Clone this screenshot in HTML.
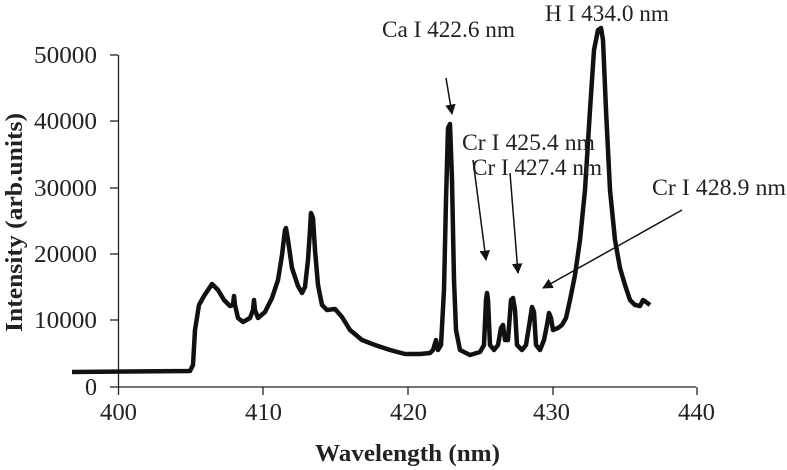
<!DOCTYPE html>
<html><head><meta charset="utf-8"><style>
html,body{margin:0;padding:0;background:#fff;}
svg{display:block;}
text{font-family:"Liberation Serif","Times New Roman",serif;}
</style></head><body>
<svg width="787" height="470" viewBox="0 0 787 470" xmlns="http://www.w3.org/2000/svg" font-family="Liberation Serif, serif">
<defs><marker id="ah" viewBox="0 0 10 10" refX="9" refY="5" markerWidth="7" markerHeight="7" orient="auto"><path d="M0,0 L10,5 L0,10 z" fill="#111"/></marker></defs>
<g stroke="#222" stroke-width="1.3" fill="none">
<line x1="118.5" y1="55" x2="118.5" y2="387"/>
<line x1="118" y1="387" x2="696" y2="387"/>
<line x1="110" y1="55" x2="118" y2="55"/>
<line x1="110" y1="121" x2="118" y2="121"/>
<line x1="110" y1="188" x2="118" y2="188"/>
<line x1="110" y1="254" x2="118" y2="254"/>
<line x1="110" y1="320" x2="118" y2="320"/>
<line x1="110" y1="387" x2="118" y2="387"/>
<line x1="118.5" y1="387" x2="118.5" y2="395"/>
<line x1="263" y1="387" x2="263" y2="395"/>
<line x1="408" y1="387" x2="408" y2="395"/>
<line x1="553" y1="387" x2="553" y2="395"/>
<line x1="697" y1="387" x2="697" y2="395"/>
</g>
<g font-size="24" fill="#222" text-anchor="end" font-family="Liberation Serif, serif">
<text x="97" y="63" textLength="63" lengthAdjust="spacingAndGlyphs">50000</text>
<text x="97" y="129" textLength="63" lengthAdjust="spacingAndGlyphs">40000</text>
<text x="97" y="196" textLength="63" lengthAdjust="spacingAndGlyphs">30000</text>
<text x="97" y="262" textLength="63" lengthAdjust="spacingAndGlyphs">20000</text>
<text x="97" y="328" textLength="63" lengthAdjust="spacingAndGlyphs">10000</text>
<text x="97" y="395">0</text>
</g>
<g font-size="24" fill="#222" font-family="Liberation Serif, serif">
<text x="100" y="420" textLength="37" lengthAdjust="spacingAndGlyphs">400</text>
<text x="245" y="420" textLength="37" lengthAdjust="spacingAndGlyphs">410</text>
<text x="390" y="420" textLength="37" lengthAdjust="spacingAndGlyphs">420</text>
<text x="533" y="420" textLength="37" lengthAdjust="spacingAndGlyphs">430</text>
<text x="678" y="420" textLength="37" lengthAdjust="spacingAndGlyphs">440</text>
</g>
<text x="315" y="461" font-size="24" font-weight="bold" fill="#222" textLength="185" lengthAdjust="spacingAndGlyphs">Wavelength (nm)</text>
<text transform="translate(22,332) rotate(-90)" font-size="24" font-weight="bold" fill="#222" textLength="219" lengthAdjust="spacingAndGlyphs">Intensity (arb.units)</text>
<path fill="none" stroke="#111" stroke-width="4.5" stroke-linejoin="round" d="M72,372 L190,371 L193,365 L195,330 L199,305 L204,296 L212,284 L218,290 L224,300 L230,306 L233,305 L234,296 L235,305 L238,318 L243,322 L250,318 L253,310 L254,300 L255,310 L258,318 L265,312 L272,298 L278,280 L282,255 L285,230 L286,228 L288,240 L292,268 L298,286 L302,293 L305,287 L308,260 L310,230 L311,213 L313,218 L315,250 L318,285 L322,305 L327,310 L335,309 L342,317 L350,330 L362,340 L375,345 L390,350 L405,354 L420,354 L430,353 L433,350 L436,340 L438,350 L441,345 L444,290 L446,200 L448,128 L450,124 L452,180 L454,280 L456,330 L460,350 L470,355 L480,352 L484,345 L486,300 L487,293 L488,300 L490,345 L494,350 L498,345 L501,328 L503,325 L505,340 L508,340 L511,300 L513,298 L515,310 L517,345 L522,350 L526,345 L530,320 L532,307 L534,312 L536,345 L540,350 L544,340 L547,325 L549,313 L551,318 L553,330 L558,328 L562,325 L566,318 L570,300 L575,275 L580,240 L585,190 L590,110 L594,50 L598,30 L601,28 L603,40 L606,110 L610,190 L615,240 L620,268 L625,285 L630,300 L635,305 L640,306 L643,300 L646,302 L650,305"/>
<g stroke="#111" stroke-width="1.5" marker-end="url(#ah)">
<line x1="446" y1="78" x2="452" y2="114"/>
<line x1="473" y1="160" x2="486" y2="260"/>
<line x1="510" y1="173" x2="518" y2="273"/>
<line x1="682" y1="210" x2="543" y2="288"/>
</g>
<g font-size="23" fill="#222" font-family="Liberation Serif, serif">
<text x="382" y="37" textLength="133" lengthAdjust="spacingAndGlyphs">Ca I 422.6 nm</text>
<text x="545" y="21" textLength="124" lengthAdjust="spacingAndGlyphs">H I 434.0 nm</text>
<text x="462" y="150" textLength="133" lengthAdjust="spacingAndGlyphs">Cr I 425.4 nm</text>
<text x="472" y="175" textLength="130" lengthAdjust="spacingAndGlyphs">Cr I 427.4 nm</text>
<text x="652" y="195" textLength="134" lengthAdjust="spacingAndGlyphs">Cr I 428.9 nm</text>
</g>
</svg>
</body></html>
